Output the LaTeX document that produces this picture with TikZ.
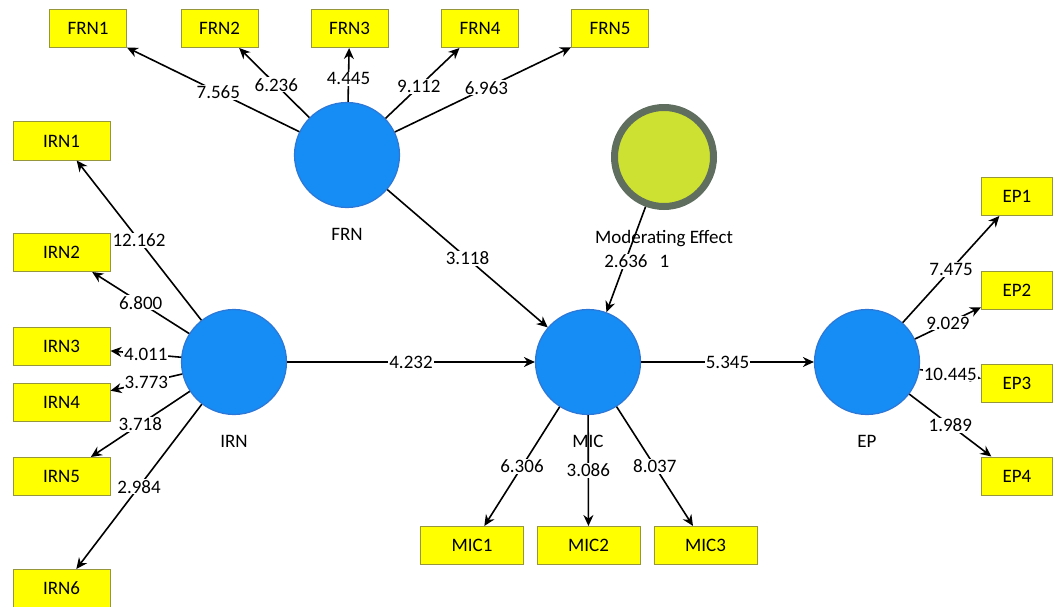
\documentclass[tikz,border=0pt]{standalone}
\usepackage{fontspec}
\setmainfont{Carlito}
\usepackage{xcolor}
\usetikzlibrary{arrows.meta}

\definecolor{lvblue}{RGB}{22,140,245}
\definecolor{lvedge}{RGB}{45,120,215}
\definecolor{mvyellow}{RGB}{255,255,0}
\definecolor{mvedge}{RGB}{150,150,60}
\definecolor{modfill}{RGB}{205,225,50}
\definecolor{modring}{RGB}{95,110,95}

\begin{document}
\begin{tikzpicture}[x=1pt,y=-1pt,font=\fontsize{19}{22}\selectfont,
        lv/.style={circle,fill=lvblue,draw=lvedge,line width=1.2pt,minimum size=105pt,inner sep=0pt},
        modlv/.style={circle,fill=modfill,draw=modring,line width=7pt,minimum size=99pt,inner sep=0pt},
        mv/.style={rectangle,fill=mvyellow,draw=mvedge,line width=1pt,minimum height=38pt,inner sep=0pt},
        arr/.style={line width=1.6pt,-{Stealth[length=11pt,width=10pt]}},
        val/.style={fill=white,inner sep=1pt,text=black}]
    \useasboundingbox (0,0) rectangle (1054,607);

    % latent variables
    \node[lv,label={[label distance=17pt]below:FRN}] (FRN) at (347,155) {};
    \node[lv,label={[label distance=17pt]below:IRN}] (IRN) at (234,362) {};
    \node[lv,label={[label distance=17pt]below:MIC}] (MIC) at (588,362) {};
    \node[lv,label={[label distance=17pt]below:EP}] (EP) at (867,362) {};
    \node[modlv,label={[label distance=17pt]below:Moderating Effect}] (ME) at (664,157) {};

    % indicators
    \foreach \i/\x in {1/88,2/219.5,3/349.5,4/480,5/610}
        \node[mv,minimum width=77pt] (FRN\i) at (\x,28.5) {FRN\i};
    \foreach \i/\y in {1/141,2/252.5,3/346.5,4/402,5/476.5,6/588.5}
        \node[mv,minimum width=97pt] (IRN\i) at (61.5,\y) {IRN\i};
    \foreach \i/\x in {1/472,2/588.5,3/705.5}
        \node[mv,minimum width=103pt] (MIC\i) at (\x,545.5) {MIC\i};
    \foreach \i/\y in {1/196.5,2/290,3/383.5,4/476}
        \node[mv,minimum width=71pt] (EP\i) at (1017,\y) {EP\i};

    % outer loadings
    \foreach \i/\v/\p in {1/7.565/0.47,2/6.236/0.47,3/4.445/0.43,4/9.112/0.45,5/6.963/0.52}
        \draw[arr] (FRN) -- node[val,pos=\p] {\v} (FRN\i);
    \foreach \i/\v in {1/12.162,2/6.800,3/4.011,4/3.773,5/3.718,6/2.984}
        \draw[arr] (IRN) -- node[val] {\v} (IRN\i);
    \foreach \i/\v in {1/6.306,2/3.086,3/8.037}
        \draw[arr] (MIC) -- node[val] {\v} (MIC\i);
    \foreach \i/\v in {1/7.475,2/9.029,3/10.445,4/1.989}
        \draw[arr] (EP) -- node[val] {\v} (EP\i);

    % paths
    \draw[arr] (FRN) -- node[val] {3.118} (MIC);
    \draw[arr] (IRN) -- node[val] {4.232} (MIC);
    \draw[arr] (MIC) -- node[val] {5.345} (EP);
    \draw[arr] (ME) -- node[val,pos=0.52,xshift=11.5pt] {2.636\hspace{12pt}1} (MIC);
\end{tikzpicture}
\end{document}
